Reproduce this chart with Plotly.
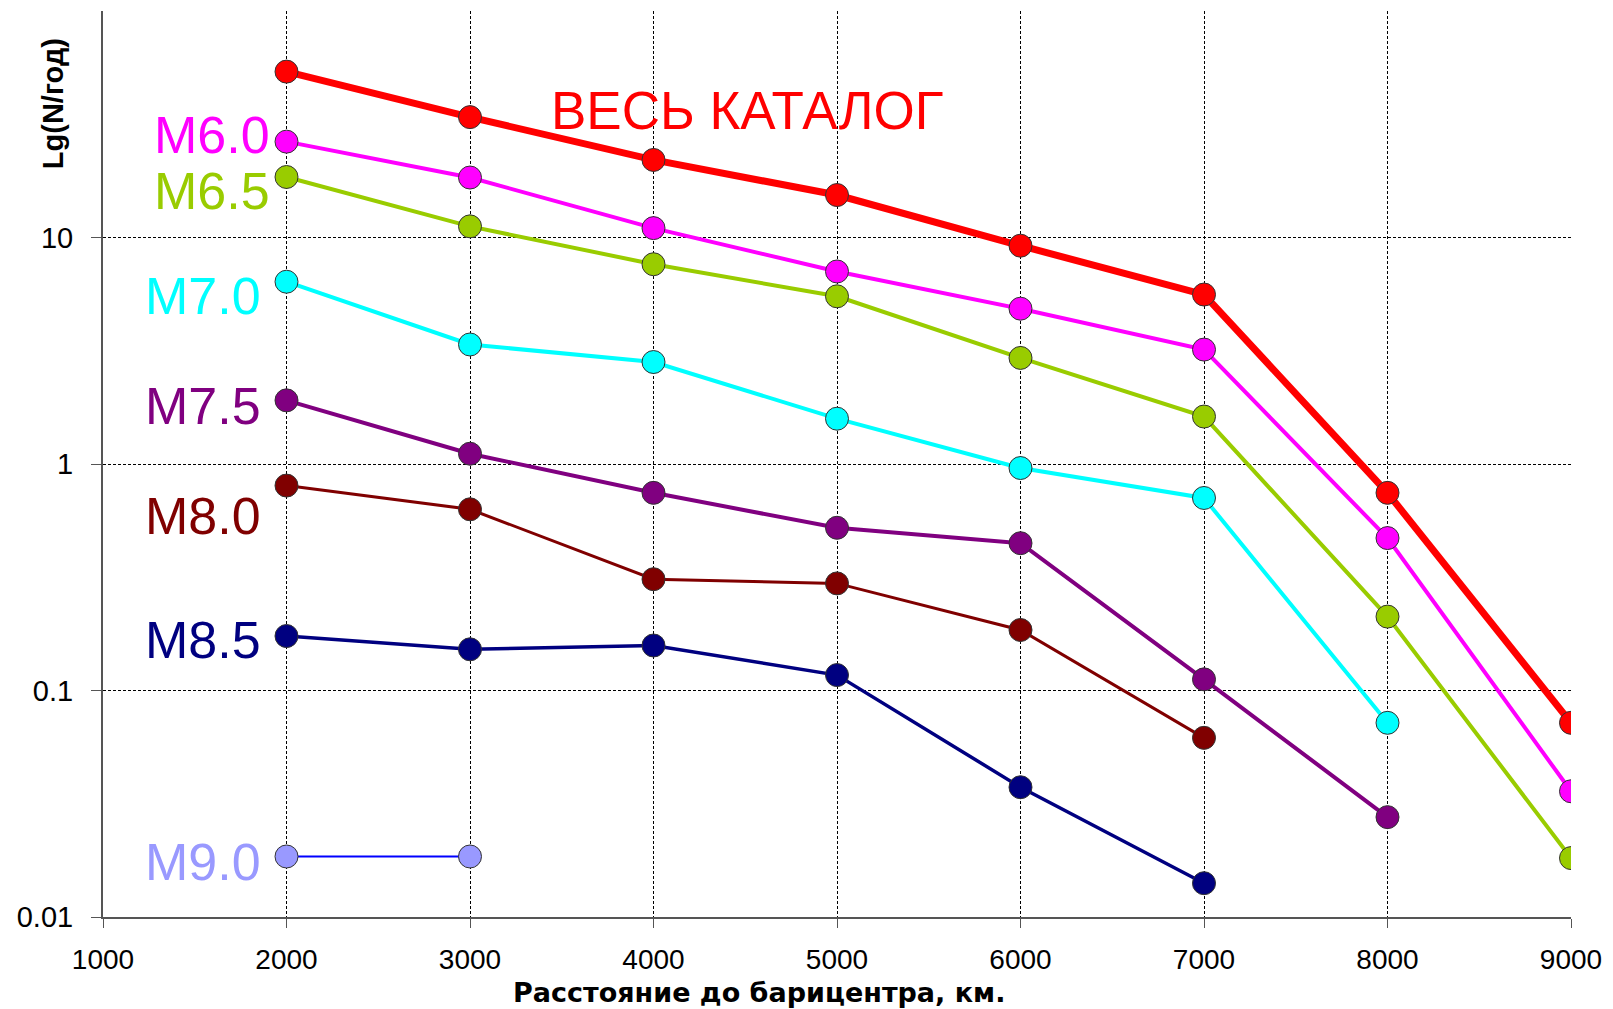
import plotly.graph_objects as go

# ---------------- data ----------------
distance_km = [2000, 3000, 4000, 5000, 6000, 7000, 8000, 9000]

all_catalog = [54, 34, 22, 15.4, 9.2, 5.6, 0.746, 0.072]
m60 = [26.5, 18.4, 11.0, 7.08, 4.85, 3.2, 0.471, 0.0359]
m65 = [18.5, 11.2, 7.62, 5.5, 2.94, 1.62, 0.212, 0.0182]
m70 = [6.38, 3.37, 2.82, 1.585, 0.96, 0.708, 0.072]
m75 = [1.91, 1.11, 0.746, 0.523, 0.447, 0.112, 0.0276]
m80 = [0.803, 0.631, 0.31, 0.297, 0.185, 0.0618]
m85 = [0.174, 0.152, 0.158, 0.117, 0.0374, 0.0141]
m90 = [0.0185, 0.0185]

series_names = ["ВЕСЬ КАТАЛОГ", "M6.0", "M6.5", "M7.0", "M7.5", "M8.0", "M8.5", "M9.0"]
series_values = [all_catalog, m60, m65, m70, m75, m80, m85, m90]

y_tick_vals = [0.01, 0.1, 1, 10]
y_tick_text = ["0.01", "0.1", "1", "10"]
x_tick_vals = [1000, 2000, 3000, 4000, 5000, 6000, 7000, 8000, 9000]

x_title = "Расстояние до барицентра, км."
y_title = "Lg(N/год)"

# ---------------- styles ----------------
line_colors = ["#FF0000", "#FF00FF", "#99CC00", "#00FFFF", "#800080", "#800000", "#000080", "#0000FF"]
marker_colors = ["#FF0000", "#FF00FF", "#99CC00", "#00FFFF", "#800080", "#800000", "#000080", "#9999FF"]
label_colors = ["#FF0000", "#FF00FF", "#99CC00", "#00FFFF", "#800080", "#800000", "#000080", "#9999FF"]
line_widths = [7, 4, 4, 4, 4, 3, 3.5, 2]
label_sizes = [53, 52, 52, 52, 52, 52, 52, 52]

W, H = 1613, 1009
ML, MR, MT, MB = 103, 36, 11, 92
PW, PH = W - ML - MR, H - MT - MB

FONT = "Liberation Sans, Arial"


def px_to_paper(px, py):
    return (px - ML) / PW, 1 - (py - MT) / PH


# label anchor positions in pixels (right edge / centre)
label_pos = [
    (750, 110, "center"),
    (273, 135, "right"),
    (273, 191, "right"),
    (264, 296, "right"),
    (264, 406, "right"),
    (264, 516, "right"),
    (264, 640, "right"),
    (264, 862, "right"),
]

fig = go.Figure()
for name, vals, lc, mc, lw in zip(series_names, series_values, line_colors, marker_colors, line_widths):
    fig.add_trace(go.Scatter(
        x=distance_km[:len(vals)], y=vals, mode="lines+markers", name=name,
        line=dict(color=lc, width=lw),
        marker=dict(size=23, color=mc, line=dict(color="#333333", width=1)),
        showlegend=False,
    ))

for name, col, sz, (px, py, anchor) in zip(series_names, label_colors, label_sizes, label_pos):
    ax, ay = px_to_paper(px, py)
    fig.add_annotation(
        x=ax, y=ay, xref="paper", yref="paper", text=name, showarrow=False,
        xanchor=anchor, yanchor="middle",
        font=dict(family=FONT, size=sz, color=col),
    )

# y-axis title (placed near the top, as in the original)
ax, ay = px_to_paper(53, 104)
fig.add_annotation(
    x=ax, y=ay, xref="paper", yref="paper", text=y_title, showarrow=False,
    textangle=-90, xanchor="center", yanchor="middle",
    font=dict(family=FONT, size=29, color="black", weight="bold"),
)

# x-axis title (slightly left of plot centre, as in the original)
ax, ay = px_to_paper(762, 992)
fig.add_annotation(
    x=ax, y=ay, xref="paper", yref="paper", text=x_title, showarrow=False,
    xanchor="center", yanchor="middle",
    font=dict(family="DejaVu Sans", size=27, color="black", weight="bold"),
)

fig.update_layout(
    width=W, height=H,
    margin=dict(l=ML, r=MR, t=MT, b=MB),
    paper_bgcolor="white", plot_bgcolor="white",
    font=dict(family=FONT, color="black"),
)

fig.update_xaxes(
    range=[1000, 9000], tickvals=x_tick_vals,
    showgrid=True, gridcolor="black", gridwidth=1, griddash="3px,2px",
    showline=True, linecolor="#555555", linewidth=2,
    ticks="outside", ticklen=9, tickcolor="#555555", tickwidth=1,
    tickfont=dict(size=28, family=FONT),
    ticklabelstandoff=7,
    zeroline=False,
)
fig.update_yaxes(
    type="log", range=[-2, 2], tickvals=y_tick_vals, ticktext=y_tick_text,
    showgrid=True, gridcolor="black", gridwidth=1, griddash="3px,2px",
    showline=True, linecolor="#555555", linewidth=2,
    ticks="outside", ticklen=10, tickcolor="#555555", tickwidth=1,
    tickfont=dict(size=29, family=FONT),
    ticklabelstandoff=12,
    zeroline=False,
)

fig.write_html("out.html")
